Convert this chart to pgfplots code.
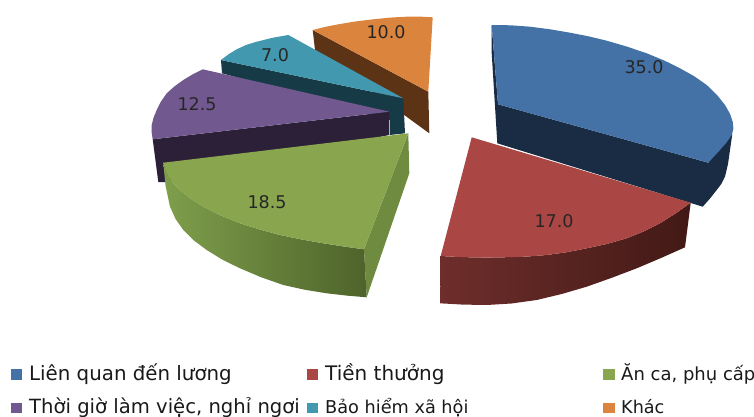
\documentclass[border=0pt]{standalone}
\usepackage{pgfplots}
\pgfplotsset{compat=1.18}
\usepackage{fontspec}
\setmainfont{DejaVu Sans}
\definecolor{blueT}{HTML}{4471A6}
\definecolor{blueS}{HTML}{1A2C44}
\definecolor{redT}{HTML}{AA4643}
\definecolor{redL}{HTML}{6E2E2B}
\definecolor{redR}{HTML}{421916}
\definecolor{greenT}{HTML}{89A54E}
\definecolor{greenL}{HTML}{7F9F4B}
\definecolor{greenR}{HTML}{4E632B}
\definecolor{greenF}{HTML}{6F8B40}
\definecolor{purpleT}{HTML}{71588F}
\definecolor{purpleS}{HTML}{2C2039}
\definecolor{tealT}{HTML}{4198AF}
\definecolor{tealS}{HTML}{163B47}
\definecolor{orangeT}{HTML}{DB843D}
\definecolor{orangeS}{HTML}{5C3315}
\newcommand{\pielabel}[3]{\node[text=black!85,font=\fontsize{17.5}{20}\selectfont] at (axis cs:#1,#2) {#3};}
\newcommand{\legtext}[4]{\node[anchor=base west,inner sep=0pt,text=black!90,font=\fontsize{#3}{20}\selectfont] at (axis cs:#1,#2) {#4};}
\begin{document}
\begin{tikzpicture}
\useasboundingbox (0,0) rectangle (754pt,417pt);
\begin{axis}[at={(0,0)},anchor=south west,scale only axis,width=754pt,height=417pt,
  xmin=0,xmax=754,ymin=0,ymax=417,y dir=reverse,hide axis,clip=false,no markers]
% orange wedge: Khác
\addplot[fill=orangeS,draw=none] coordinates {(312.7,30)(315,50)(429.3,133.3)(428.3,91.7)};
\addplot[fill=orangeT,draw=none] coordinates {(312.7,30)(326,26.7)(340,24)(356.5,21.3)(373.3,19.3)(390,17.6)(406.7,16.7)(419.8,16.6)(432.7,17.3)(428.3,91.7)};
% teal wedge: Bảo hiểm xã hội
\addplot[fill=tealS,draw=none] coordinates {(221,60)(222,73.3)(390,120)(390,135)(405,133.3)(403.3,98.3)};
\addplot[fill=tealT,draw=none] coordinates {(221,60)(228.5,54.3)(236.7,49.3)(246,45)(256.7,41.7)(272,37.9)(288.3,35)(403.3,98.3)};
% purple wedge: Thời giờ làm việc
\addplot[fill=purpleS,draw=none] coordinates {(152.7,139.3)(158.3,182)(165,182)(389.3,135)(389.3,111.7)};
\addplot[fill=purpleT,draw=none] coordinates {(202.7,69.3)(192.8,74.3)(183.3,80)(174.6,86.3)(166.7,93.3)(161,101.5)(156.7,110)(153.6,117.5)(151.7,125)(151.6,132.3)(152.7,139.3)(389.3,111.7)};
% blue wedge: Liên quan đến lương
\addplot[fill=blueS,draw=none] coordinates {(491.7,25)(491.7,53.3)(497.3,143.3)(702.7,206.7)(710,198.5)(716.7,190)(721.3,184)(725,176.7)(728,164)(730,150)(732,136)(732.7,121.7)(708.3,162.7)(498,104.3)};
\addplot[fill=blueT,draw=none] coordinates {(491.7,25)(510.6,25.3)(530,26.7)(550.1,29.3)(570,32.7)(588.4,36.3)(606.7,40.7)(626.9,46.6)(646.7,53.3)(664.2,60.5)(680,68.3)(694.3,76.3)(706.7,85)(717,95)(725,105)(730,113.8)(732.7,121.7)(733.4,128.5)(731.7,135)(726.5,142.5)(720,150)(714,156.5)(708.3,162.7)(498,104.3)};
% red wedge: Tiền thưởng
\addplot[left color=redL,right color=redR,draw=none] coordinates {(440.7,256)(440,303.3)(463,304.6)(486.7,305)(511.5,303.5)(536.7,300)(561.7,294)(586.7,286.7)(611.7,277.8)(636.7,268.3)(661,258)(685,247.3)(690.7,202.7)(675.6,213.5)(660,223.3)(643.6,231.5)(626.7,238.3)(606.8,244)(586.7,248.3)(566.8,252.2)(546.7,255)(525,256.7)(503.3,257.3)(486.5,257.6)(470,257.3)(455.3,256.8)};
\addplot[fill=redT,draw=none] coordinates {(471.7,137.3)(690.7,202.7)(675.6,213.5)(660,223.3)(643.6,231.5)(626.7,238.3)(606.8,244)(586.7,248.3)(566.8,252.2)(546.7,255)(525,256.7)(503.3,257.3)(486.5,257.6)(470,257.3)(455.3,256.8)(440.7,256)};
% green wedge: Ăn ca, phụ cấp
\addplot[fill=greenF,draw=none] coordinates {(408.3,133.3)(409.3,173.3)(366.7,297.3)(364,249.3)};
\addplot[left color=greenL,right color=greenR,draw=none] coordinates {(163.3,162.7)(165.5,185.5)(170,206.7)(175.7,219.2)(183.3,230)(194.3,240.8)(206.7,250)(222.6,259.8)(240,268.3)(261.3,277.3)(283.3,285)(305,289.8)(326.7,293.3)(346.7,295.6)(366.7,297.3)(364,249.3)(343.8,246.5)(323.3,243.3)(301.8,239.5)(280,235)(259.8,229.5)(240,223.3)(221,215.5)(203.3,206.7)(191,198.8)(180,190)(173.6,183.6)(168.3,176.7)(165.3,170)};
\addplot[fill=greenT,draw=none] coordinates {(163.3,162.7)(408.3,133.3)(364,249.3)(343.8,246.5)(323.3,243.3)(301.8,239.5)(280,235)(259.8,229.5)(240,223.3)(221,215.5)(203.3,206.7)(191,198.8)(180,190)(173.6,183.6)(168.3,176.7)(165.3,170)};
% value labels
\pielabel{644}{67}{35.0}
\pielabel{554}{221}{17.0}
\pielabel{267}{202}{18.5}
\pielabel{197}{104}{12.5}
\pielabel{275}{55}{7.0}
\pielabel{386}{32}{10.0}
% legend swatches
\addplot[fill=blueT,draw=none] coordinates {(11,369)(22,369)(22,380)(11,380)};
\addplot[fill=redT,draw=none] coordinates {(307,369)(318,369)(318,380)(307,380)};
\addplot[fill=greenT,draw=none] coordinates {(603,369)(615,369)(615,380)(603,380)};
\addplot[fill=purpleT,draw=none] coordinates {(11,403)(22,403)(22,413)(11,413)};
\addplot[fill=tealT,draw=none] coordinates {(307,403)(318,403)(318,413)(307,413)};
\addplot[fill=orangeT,draw=none] coordinates {(603,403)(615,403)(615,413)(603,413)};
% legend text
\legtext{29}{380}{19.8}{Liên quan đến lương}
\legtext{325}{380}{20}{Tiền thưởng}
\legtext{621}{380}{18}{Ăn ca, phụ cấp}
\legtext{29}{413}{19.6}{Thời giờ làm việc, nghỉ ngơi}
\legtext{325}{413}{17.7}{Bảo hiểm xã hội}
\legtext{621}{413}{17.6}{Khác}
\end{axis}
\end{tikzpicture}
\end{document}
